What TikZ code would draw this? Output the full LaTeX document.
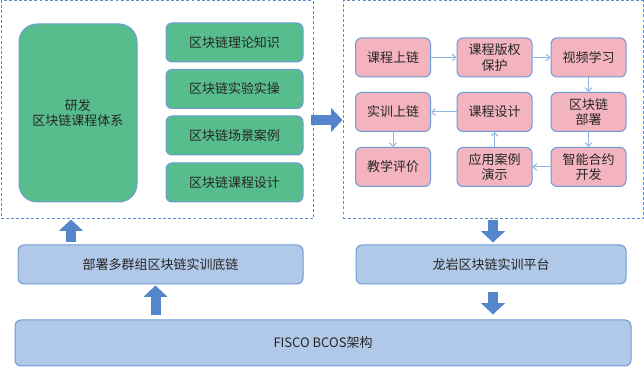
\documentclass[tikz,border=0pt]{standalone}
\usepackage{fontspec}
\setmainfont{Noto Sans CJK SC}
\usepackage{xcolor}
\usetikzlibrary{calc,arrows.meta,positioning}

\definecolor{greenc}{RGB}{88,189,140}
\definecolor{pinkc}{RGB}{243,180,191}
\definecolor{basec}{RGB}{177,201,232}
\definecolor{edgec}{RGB}{108,155,215}
\definecolor{framec}{RGB}{95,142,205}
\definecolor{bigarrowc}{RGB}{84,134,204}
\definecolor{flowc}{RGB}{141,180,226}
\definecolor{textc}{RGB}{38,38,38}

\begin{document}
\begin{tikzpicture}[x=0.75pt,y=-0.75pt,line width=0.75pt,
  every node/.style={font=\fontsize{9.75pt}{11.5pt}\selectfont,text=textc,align=center,inner sep=0pt},
  frame/.style={draw=framec,dash pattern=on 2.2pt off 1.6pt,minimum height=163.5pt},
  greenbox/.style={draw=edgec,fill=greenc,rounded corners=4.5pt,minimum width=102.75pt,minimum height=29.25pt},
  pinkbox/.style={draw=edgec,fill=pinkc,rounded corners=4.5pt,minimum width=56.25pt,minimum height=29.25pt},
  basebox/.style={draw=edgec,fill=basec,rounded corners=4.5pt,minimum height=29.25pt},
  flow/.style={draw=flowc,-{Straight Barb[length=2.6pt,width=5pt]}},
  blockarrow/.style={draw=bigarrowc,line width=7.5pt,-{Triangle[width=17.5pt,length=8.5pt]}}]
  \useasboundingbox (0,0) rectangle (644,367);

  % --- Course system (left) ---
  \node[frame,minimum width=234pt] (leftframe) at (157,110) {};
  \node[greenbox,minimum width=88.5pt,minimum height=133.5pt,rounded corners=13.5pt] (bigbox) at (78,113) {研发\\区块链课程体系};
  \node[greenbox] (theory) at (234.5,42.5) {区块链理论知识};
  \node[greenbox] (experiment) at (234.5,89) {区块链实验实操};
  \node[greenbox] (scene) at (234.5,135.5) {区块链场景案例};
  \node[greenbox] (cdesign) at (234.5,182.5) {区块链课程设计};

  % --- Teaching flow (right) ---
  \node[frame,minimum width=225pt] (rightframe) at (493,110) {};
  \node[pinkbox] (upchain) at (393,57.5) {课程上链};
  \node[pinkbox] (copyright) at (494.5,57.5) {课程版权\\保护};
  \node[pinkbox] (video) at (588.5,57.5) {视频学习};
  \node[pinkbox] (trainchain) at (393,112) {实训上链};
  \node[pinkbox] (design) at (494.5,112) {课程设计};
  \node[pinkbox] (deploy) at (588.5,112) {区块链\\部署};
  \node[pinkbox] (evaluate) at (393,167) {教学评价};
  \node[pinkbox] (demo) at (494.5,167) {应用案例\\演示};
  \node[pinkbox] (contract) at (588.5,167) {智能合约\\开发};

  \draw[flow] (upchain) -- (copyright);
  \draw[flow] (copyright) -- (video);
  \draw[flow] (video) -- (deploy);
  \draw[flow] (deploy) -- (contract);
  \draw[flow] (contract) -- (demo);
  \draw[flow] (demo) -- (design);
  \draw[flow] (design) -- (trainchain);
  \draw[flow] (trainchain) -- (evaluate);

  % --- Platform layers ---
  \node[basebox,minimum width=213.75pt] (basechain) at (160.5,264.5) {部署多群组区块链实训底链};
  \node[basebox,minimum width=202.5pt] (platform) at (491,264.5) {龙岩区块链实训平台};
  \node[basebox,minimum width=462pt,minimum height=34.5pt] (fisco) at (323,343) {FISCO BCOS架构};

  % --- Block arrows ---
  \draw[blockarrow,shorten <=3pt] ([xshift=-5.25pt,yshift=-5.25pt]leftframe.east |- bigbox.center) -- ([yshift=-5.25pt]rightframe.west |- bigbox.center);
  \draw[blockarrow,shorten <=1.5pt] ([xshift=-5.25pt]bigbox.south |- basechain.north) -- ([xshift=-5.25pt]bigbox.south |- leftframe.south);
  \draw[blockarrow,shorten <=3pt,shorten >=0.75pt] ([xshift=-3.75pt]basechain.south |- fisco.north) -- ([xshift=-3.75pt]basechain.south);
  \draw[blockarrow,shorten <=0.75pt,shorten >=1.5pt] ([xshift=1.5pt]platform.north |- rightframe.south) -- ([xshift=1.5pt]platform.north);
  \draw[blockarrow,shorten <=6pt,shorten >=3.75pt] ([xshift=1.5pt]platform.south) -- ([xshift=1.5pt]platform.south |- fisco.north);
\end{tikzpicture}
\end{document}
